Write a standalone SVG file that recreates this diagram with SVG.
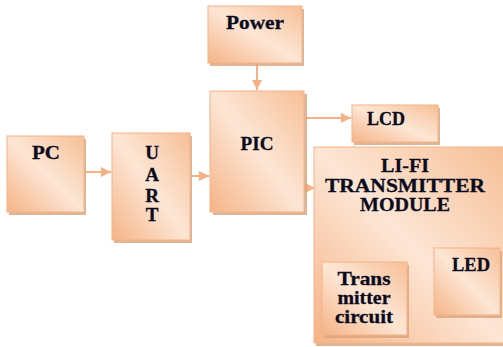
<svg xmlns="http://www.w3.org/2000/svg" width="503" height="347" viewBox="0 0 503 347">
<defs>
<linearGradient id="g" x1="0" y1="1" x2="1" y2="0">
<stop offset="0" stop-color="#f5b386"/>
<stop offset="0.5" stop-color="#fde6d5"/>
<stop offset="1" stop-color="#f6bf96"/>
</linearGradient>
<marker id="ah" markerWidth="10" markerHeight="10" refX="10" refY="5" orient="auto" markerUnits="userSpaceOnUse">
<path d="M0,0 L10,5 L0,10 Z" fill="#f4b183"/>
</marker>
</defs>
<style>
.box{fill:url(#g);stroke:#f3b487;stroke-width:1}
.sh{fill:#d8a37c;opacity:0.8}
.t{font-family:"Liberation Serif","Times New Roman",serif;font-weight:bold;font-size:19px;fill:#0b0b1e;text-anchor:middle;stroke:#0b0b1e;stroke-width:0.3}
.c{stroke:#f4b183;stroke-width:2;fill:none;marker-end:url(#ah)}
</style>
<rect width="503" height="347" fill="#ffffff"/>
<g id="connectors">
<line class="c" x1="257" y1="64" x2="257" y2="90"/>
<line class="c" x1="86" y1="172" x2="111" y2="172"/>
<line class="c" x1="192" y1="176" x2="209" y2="176"/>
<line class="c" x1="306" y1="118" x2="351" y2="118"/>
<line class="c" x1="306" y1="188" x2="315" y2="188"/>
<line class="c" x1="409" y1="269" x2="433" y2="269"/>
</g>
<g id="power">
<rect class="sh" x="210" y="9" width="94" height="57"/>
<rect class="box" x="208" y="6" width="94" height="57"/>
<text class="t" x="255" y="29" textLength="58" lengthAdjust="spacingAndGlyphs">Power</text>
</g>
<g id="pc">
<rect class="sh" x="9" y="139" width="77" height="76"/>
<rect class="box" x="7" y="136" width="77" height="76"/>
<text class="t" x="46" y="159" textLength="28" lengthAdjust="spacingAndGlyphs">PC</text>
</g>
<g id="uart">
<rect class="sh" x="114" y="136" width="78" height="107"/>
<rect class="box" x="112" y="133" width="78" height="107"/>
<text class="t" x="152" y="159">U</text>
<text class="t" x="152" y="181">A</text>
<text class="t" x="152" y="202">R</text>
<text class="t" x="152" y="221">T</text>
</g>
<g id="pic">
<rect class="sh" x="213" y="94" width="94" height="121"/>
<rect class="box" x="210" y="91" width="94" height="121"/>
<text class="t" x="257" y="150" textLength="33" lengthAdjust="spacingAndGlyphs">PIC</text>
</g>
<g id="lcd">
<rect class="sh" x="354" y="108" width="86" height="37"/>
<rect class="box" x="352" y="105" width="86" height="37"/>
<text class="t" x="386" y="125" font-size="18" textLength="38" lengthAdjust="spacingAndGlyphs">LCD</text>
</g>
<g id="lifi">
<rect class="sh" x="316" y="150" width="190" height="196"/>
<rect class="box" x="314" y="147" width="190" height="196"/>
<text class="t" x="405" y="172" textLength="48" lengthAdjust="spacingAndGlyphs">LI-FI</text>
<text class="t" x="405" y="192" textLength="160" lengthAdjust="spacingAndGlyphs">TRANSMITTER</text>
<text class="t" x="405" y="211" textLength="90" lengthAdjust="spacingAndGlyphs">MODULE</text>
</g>
<g id="transmitter">
<rect class="sh" x="324" y="265" width="85" height="73"/>
<rect class="box" x="322" y="262" width="85" height="73"/>
<text class="t" x="364" y="285" textLength="53" lengthAdjust="spacingAndGlyphs">Trans</text>
<text class="t" x="364" y="304" textLength="53" lengthAdjust="spacingAndGlyphs">mitter</text>
<text class="t" x="364" y="323" textLength="58" lengthAdjust="spacingAndGlyphs">circuit</text>
</g>
<g id="led">
<rect class="sh" x="436" y="251" width="66" height="67"/>
<rect class="box" x="434" y="248" width="66" height="67"/>
<text class="t" x="471" y="271" font-size="18" textLength="38" lengthAdjust="spacingAndGlyphs">LED</text>
</g>
</svg>
